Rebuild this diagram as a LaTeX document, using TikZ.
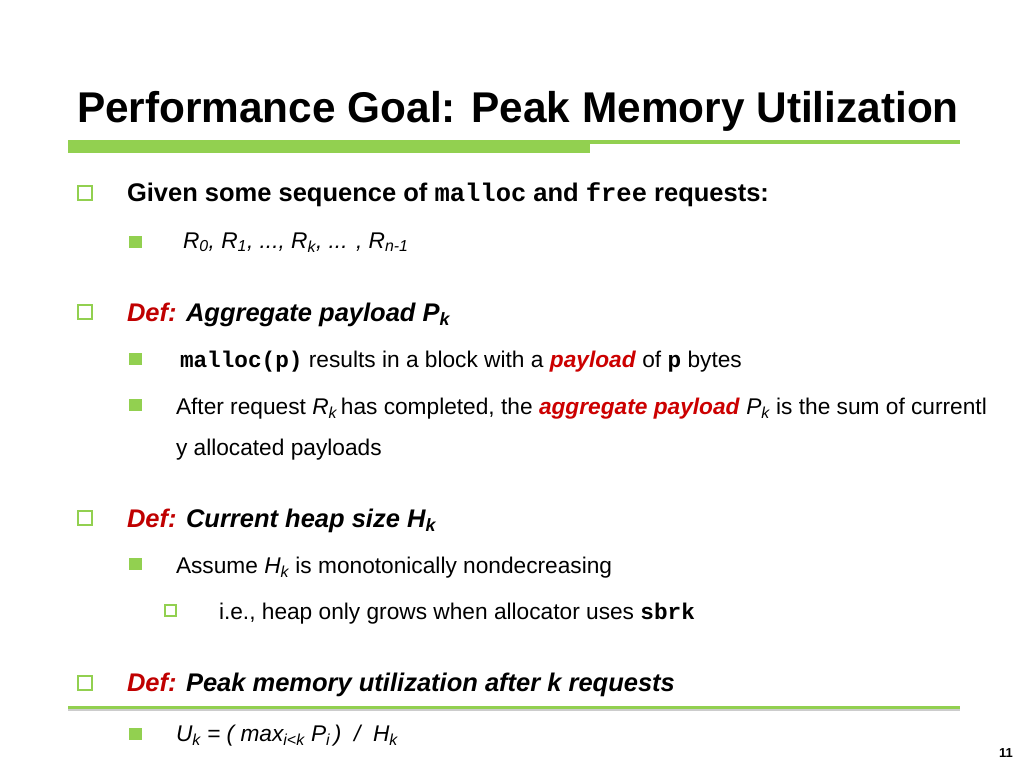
\documentclass[tikz,border=0pt]{standalone}
\usepackage{fontspec}
\setmainfont{Liberation Sans}
\setmonofont{Liberation Mono}
\usepackage{tikz}
\definecolor{bargreen}{RGB}{146,208,80}
\definecolor{defred}{RGB}{192,0,0}
\definecolor{hired}{RGB}{204,0,0}
\newcommand{\sub}[1]{\textsubscript{#1}}
\newcommand{\code}[1]{\texttt{\textbf{#1}}}

\begin{document}
\begin{tikzpicture}[x=1pt, y=-1pt,
  txt/.style = {anchor=base west, inner sep=0pt, outer sep=0pt},
  title/.style = {txt, xscale=0.985, font=\fontsize{43}{43}\selectfont\bfseries},
  one/.style = {txt, font=\fontsize{25.5}{25.5}\selectfont\bfseries\itshape},
  two/.style = {txt, font=\fontsize{22.7}{22.7}\selectfont},
  three/.style = {txt, font=\fontsize{22.7}{22.7}\selectfont},
  boxone/.style = {draw=bargreen, line width=2pt, minimum size=14pt, inner sep=0pt},
  boxtwo/.style = {fill=bargreen, minimum width=13pt, minimum height=12pt, inner sep=0pt},
  boxthree/.style = {draw=bargreen, line width=1.6pt, minimum size=11pt, inner sep=0pt}]
\useasboundingbox (0,0) rectangle (1024,768);
\fill[white] (0,0) rectangle (1024,768);

% title and bars
\node[title] (title) at (77,122) {Performance Goal: Peak Memory Utilization};
\fill[bargreen] (68,140) rectangle (590,153);
\fill[bargreen] (590,140) rectangle (960,143.5);

% level one
\node[boxone] (b1) at (85,193) {};
\node[one, font=\fontsize{25.5}{25.5}\selectfont\bfseries] (t1) at (127,201)
  {Given some sequence of \code{malloc} and \code{free} requests:};
\node[boxone] (b2) at (85,312) {};
\node[one] (t2) at (127,321) {\textcolor{defred}{Def:} Aggregate payload P\sub{k}};
\node[boxone] (b3) at (85,518) {};
\node[one] (t3) at (127,527) {\textcolor{defred}{Def:} Current heap size H\sub{k}};
\node[boxone] (b4) at (85,683) {};
\node[one] (t4) at (127,691) {\textcolor{defred}{Def:} Peak memory utilization after k requests};

% level two
\node[boxtwo] (s1) at (135,241.5) {};
\node[two, font=\fontsize{22.7}{22.7}\selectfont\itshape] (u1) at (183,248)
  {R\sub{0}, R\sub{1}, ..., R\sub{k}, ... , R\sub{n-1}};
\node[boxtwo] (s2) at (135,359) {};
\node[two] (u2) at (180,367)
  {\code{malloc(p)} results in a block with a \textcolor{hired}{\textbf{\textit{payload}}} of \code{p} bytes};
\node[boxtwo] (s3) at (135,405) {};
\node[two] (u3) at (176,414)
  {After request \textit{R\sub{k}}\,has completed, the \textcolor{hired}{\textbf{\textit{aggregate payload}}} \textit{P\sub{k}} is the sum of currentl};
\node[two] (u4) at (176,455) {y allocated payloads};
\node[boxtwo] (s4) at (135,564) {};
\node[two] (u5) at (176,573) {Assume \textit{H\sub{k}} is monotonically nondecreasing};
\node[boxtwo] (s5) at (135,734) {};
\node[two, font=\fontsize{22.7}{22.7}\selectfont\itshape] (u6) at (176,741)
  {U\sub{k} = ( max\sub{i<k} P\sub{i}\,) \ / \ H\sub{k}};

% level three
\node[boxthree] (q1) at (170.5,610.5) {};
\node[three] (v1) at (219,619) {i.e., heap only grows when allocator uses \code{sbrk}};

% bottom rule and page number
\draw[gray!40, line width=3pt] (68,709.5) -- (960,709.5);
\draw[bargreen, line width=3pt] (68,707) -- (960,707);
\node[txt, font=\fontsize{13}{13}\selectfont\bfseries] (page) at (999,757) {11};
\end{tikzpicture}
\end{document}
